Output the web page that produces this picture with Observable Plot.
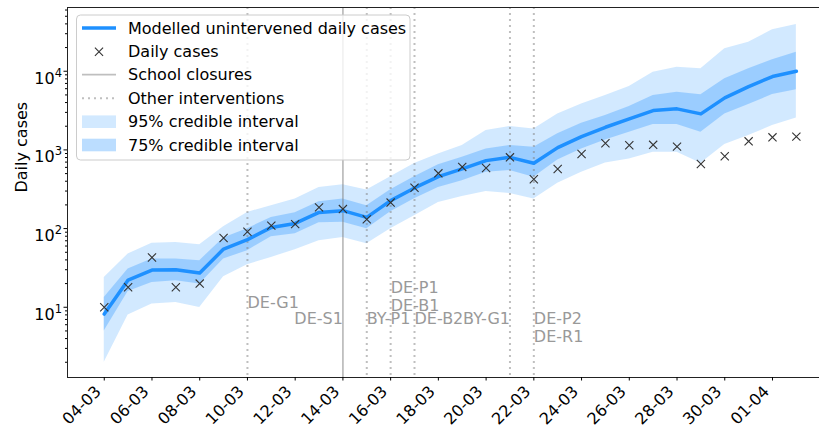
<!DOCTYPE html>
<html><head><meta charset="utf-8">
<script src="https://cdn.jsdelivr.net/npm/d3@7"></script>
<script src="https://cdn.jsdelivr.net/npm/@observablehq/plot@0.6"></script>
<style>
html,body{margin:0;padding:0;background:#fff;}
#chart{width:819px;height:429px;overflow:hidden;}
</style></head><body><div id="chart"></div>
<script>
const FONT = "DejaVu Sans";
const FS = 16;

// ---- data ----
const dates = ["2020-03-04","2020-03-05","2020-03-06","2020-03-07","2020-03-08","2020-03-09","2020-03-10","2020-03-11","2020-03-12","2020-03-13","2020-03-14","2020-03-15","2020-03-16","2020-03-17","2020-03-18","2020-03-19","2020-03-20","2020-03-21","2020-03-22","2020-03-23","2020-03-24","2020-03-25","2020-03-26","2020-03-27","2020-03-28","2020-03-29","2020-03-30","2020-03-31","2020-04-01","2020-04-02"];
const dailyCases = [10,18,43,18,20,76,91,109,114,186,177,131,214,331,504,608,590,805,423,573,889,1213,1145,1160,1101,663,829,1285,1445,1476];
const modelMedian = [8.2,22.2,29.7,30,27.2,55,72.3,103.5,116.4,160.7,169,138.7,226.5,328.5,457,573,731,805,676,1070,1476,1940,2480,3162,3325,2871,4590,6390,8570,10000];
const ci75Lower = [5.0,15.9,20.7,21.7,19.7,41,52.4,78.9,86.1,118.9,120,99.8,164,240,334,407,519,546,448,746,1030,1340,1675,2100,2100,1675,2871,3770,5055,5800];
const ci75Upper = [13.3,30.6,41,41,39.1,75.9,99.8,138.7,159.2,219.8,238,195.5,312.6,457,650,805,1030,1135,1080,1600,2180,2730,3556,4910,5410,5010,8000,10720,13960,17460];
const ci95Lower = [2.0,8.0,11.0,11.5,9.9,24.4,34.7,43.0,53.9,70.2,77.3,64.3,99.8,146,215,255,297,280,238,376,519,684,768,931,931,676,1168,1520,2040,2553];
const ci95Upper = [23.9,47.5,64.9,66.7,62.4,105.7,160.7,195.5,238.2,334,362,309.7,457,670,889,1135,1762,1978,1850,2871,3846,4910,6390,9710,11250,10720,19280,23390,33650,39270];

const schoolClosureDates = ["2020-03-14"];
const otherInterventionDates = ["2020-03-10","2020-03-15","2020-03-16","2020-03-17","2020-03-21","2020-03-22"];

const interventionLabels = ["DE-G1","DE-S1","BY-P1","DE-P1","DE-B1","DE-B2","BY-G1","DE-P2","DE-R1"];
const interventionLabelDates = ["2020-03-10","2020-03-14","2020-03-15","2020-03-16","2020-03-16","2020-03-17","2020-03-21","2020-03-22","2020-03-22"];
const interventionLabelY = [11.4,7.2,7.2,17.5,10.5,7.2,7.2,7.2,4.2];
const interventionLabelSide = ["start","end","start","start","start","start","end","start","start"];

const xTickDates = ["2020-03-04","2020-03-06","2020-03-08","2020-03-10","2020-03-12","2020-03-14","2020-03-16","2020-03-18","2020-03-20","2020-03-22","2020-03-24","2020-03-26","2020-03-28","2020-03-30","2020-04-01"];
const xTickLabels = ["04-03","06-03","08-03","10-03","12-03","14-03","16-03","18-03","20-03","22-03","24-03","26-03","28-03","30-03","01-04"];
const yMajorTicks = [10,100,1000,10000];
const yTickExponents = ["1","2","3","4"];

const legendLabels = ["Modelled unintervened daily cases","Daily cases","School closures","Other interventions","95% credible interval","75% credible interval"];

// ---- scales ----
const DAY = 864e5;
const t0 = Date.UTC(2020,2,4);
const xDomain = [new Date(t0 - 1.54*DAY), new Date(t0 + 29.97*DAY)];
const yDomain = [1.28, 64600];

const rows = dates.map((d,i)=>({date:new Date(d), cases:dailyCases[i], median:modelMedian[i],
  lo75:ci75Lower[i], hi75:ci75Upper[i], lo95:ci95Lower[i], hi95:ci95Upper[i]}));
const labelRows = interventionLabels.map((l,i)=>({label:l, date:new Date(interventionLabelDates[i]), y:interventionLabelY[i], side:interventionLabelSide[i]}));
const xTickRows = xTickDates.map((d,i)=>({date:new Date(d), label:xTickLabels[i]}));

const minorTicks = [];
for (const p of [1,10,100,1000,10000]) for (let k=2;k<=9;k++){const v=k*p; if(v>yDomain[0]&&v<yDomain[1]) minorTicks.push(v);}

const BLUE = "#1e90ff";

const chart = Plot.plot({
  width: 819, height: 429,
  marginTop: 7, marginBottom: 52, marginLeft: 67, marginRight: 0,
  style: {fontFamily: FONT, fontSize: FS+"px", background: "white", overflow: "visible"},
  x: {type: "utc", domain: xDomain, label: null},
  y: {type: "log", domain: yDomain, label: null},
  marks: [
    Plot.areaY(rows, {x:"date", y1:"lo95", y2:"hi95", fill:BLUE, fillOpacity:0.2}),
    Plot.areaY(rows, {x:"date", y1:"lo75", y2:"hi75", fill:BLUE, fillOpacity:0.3}),
    Plot.ruleX(otherInterventionDates, {x: d=>new Date(d), stroke:"gray", strokeOpacity:0.5, strokeWidth:2, strokeDasharray:"2,4"}),
    Plot.ruleX(schoolClosureDates, {x: d=>new Date(d), stroke:"gray", strokeOpacity:0.5, strokeWidth:1.8}),
    Plot.line(rows, {x:"date", y:"median", stroke:BLUE, strokeWidth:3.5}),
    Plot.dot(rows, {x:"date", y:"cases", symbol:"times", r:3.8, stroke:"#333", strokeWidth:1.1}),
    Plot.text(labelRows.filter(d=>d.side==="start"), {x:"date", y:"y", text:"label", textAnchor:"start", fill:"#999", fontSize:FS}),
    Plot.text(labelRows.filter(d=>d.side==="end"), {x:"date", y:"y", text:"label", textAnchor:"end", fill:"#999", fontSize:FS}),
    Plot.ruleY([yDomain[0], yDomain[1]], {stroke:"#222", strokeWidth:1}),
    Plot.ruleX([xDomain[0]], {stroke:"#222", strokeWidth:1}),
    Plot.axisX({ticks: xTickRows.map(d=>d.date), tickFormat: ()=>"", tickSize:3.5, label:null}),
    Plot.text(xTickRows, {x:"date", text:"label", frameAnchor:"bottom", rotate:-45, textAnchor:"end", lineAnchor:"middle", dx:-6, dy:11.5, fontSize:FS, fill:"black"}),
    Plot.axisY({ticks: yMajorTicks, tickFormat: d=>"10^"+yTickExponents[yMajorTicks.indexOf(d)], tickSize:3.5, tickPadding:2, label:null, fontSize:FS}),
    Plot.axisY({ticks: minorTicks, tickFormat: ()=>"", tickSize:2, label:null}),
    Plot.text(["Daily cases"], {frameAnchor:"left", dx:-46, rotate:-90, fontSize:FS, fill:"black"})
  ]
});
document.getElementById("chart").appendChild(chart);

const svg = d3.select(chart);
// superscript exponents on y tick labels
svg.selectAll("text").each(function(){
  const t = this.textContent;
  if (/^10\^\d$/.test(t)) {
    const e = t.split("^")[1];
    const el = d3.select(this);
    el.text("");
    el.attr("dy","0.45em");
    el.append("tspan").text("10");
    el.append("tspan").attr("dy","-0.6em").attr("font-size","0.72em").text(e);
  }
});

// legend
const lg = svg.append("g").attr("font-family", FONT).attr("font-size", FS).attr("text-anchor","start");
lg.append("rect").attr("x",76.5).attr("y",15).attr("width",333.5).attr("height",145).attr("rx",4)
  .attr("fill","white").attr("fill-opacity",0.8).attr("stroke","#cccccc");
const rowY = [28, 51.7, 74.7, 98.3, 121.7, 145];
lg.append("line").attr("x1",82).attr("x2",116).attr("y1",rowY[0]).attr("y2",rowY[0]).attr("stroke",BLUE).attr("stroke-width",3.5);
lg.append("path").attr("d", d3.symbol(d3.symbolTimes, Math.PI*3.8*3.8)()).attr("transform",`translate(99,${rowY[1]})`)
  .attr("fill","none").attr("stroke","#333").attr("stroke-width",1.1);
lg.append("line").attr("x1",82).attr("x2",116).attr("y1",rowY[2]).attr("y2",rowY[2]).attr("stroke","gray").attr("stroke-opacity",0.5).attr("stroke-width",1.8);
lg.append("line").attr("x1",82).attr("x2",116).attr("y1",rowY[3]).attr("y2",rowY[3]).attr("stroke","gray").attr("stroke-opacity",0.5).attr("stroke-width",2).attr("stroke-dasharray","2,4");
lg.append("rect").attr("x",82).attr("y",rowY[4]-6.3).attr("width",34).attr("height",12.6).attr("fill",BLUE).attr("fill-opacity",0.2);
lg.append("rect").attr("x",82).attr("y",rowY[5]-6.3).attr("width",34).attr("height",12.6).attr("fill",BLUE).attr("fill-opacity",0.3);
legendLabels.forEach((l,i)=>{
  lg.append("text").attr("x",128).attr("y",rowY[i]).attr("dy","0.36em").attr("fill","black").text(l);
});
</script></body></html>
